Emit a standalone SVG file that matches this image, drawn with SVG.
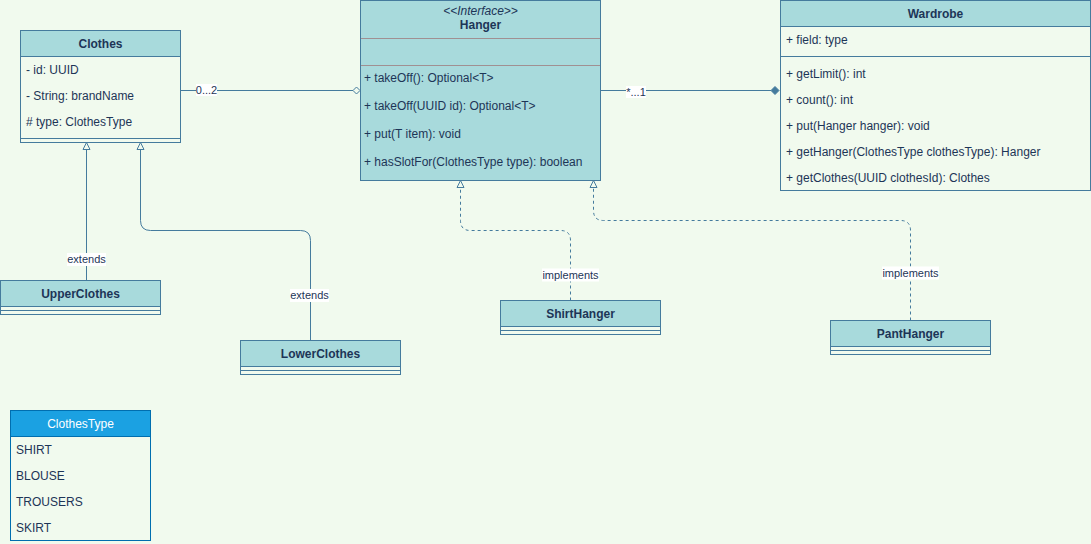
<svg xmlns="http://www.w3.org/2000/svg" width="1091" height="544" viewBox="0 0 1091 544">
  <defs>
    <style>
      .box { fill: #A8DADC; stroke: #457B9D; stroke-width: 1; }
      .body { fill: #F1FAEE; stroke: #457B9D; stroke-width: 1; }
      .sep { stroke: #457B9D; stroke-width: 1; fill: none; }
      .isep { stroke: #a09092; stroke-width: 1; fill: none; }
      .title { font-family: "Liberation Sans", Arial, sans-serif; font-size: 12px; font-weight: bold; fill: #1D3557; text-anchor: middle; }
      .stereo { font-family: "Liberation Sans", Arial, sans-serif; font-size: 12px; font-style: italic; fill: #1D3557; text-anchor: middle; }
      .member { font-family: "Liberation Sans", Arial, sans-serif; font-size: 12px; fill: #1D3557; }
      .enumtitle { font-family: "Liberation Sans", Arial, sans-serif; font-size: 12px; fill: #ffffff; text-anchor: middle; }
      .edge { stroke: #457B9D; stroke-width: 1; fill: none; }
      .dash { stroke-dasharray: 3 3; }
      .lbl { font-family: "Liberation Sans", Arial, sans-serif; font-size: 11px; fill: #1D3557; text-anchor: middle; }
      .lblbg { fill: #ffffff; }
      .enumhead { fill: #1BA1E2; stroke: #006EAF; stroke-width: 1; }
      .enumbody { fill: #F1FAEE; stroke: #006EAF; stroke-width: 1; }
    </style>
    <!-- hollow generalization triangle, base sits at the path end -->
    <marker id="inherit" viewBox="0 0 10 10" refX="0" refY="5" markerWidth="10" markerHeight="10" markerUnits="userSpaceOnUse" orient="auto">
      <path d="M0,1.5 L7,5 L0,8.5 Z" fill="#F1FAEE" stroke="#457B9D" stroke-width="1"/>
    </marker>
  </defs>

  <rect x="0" y="0" width="1091" height="544" fill="#F1FAEE"/>

  <!-- connectors -->
  <g id="connectors">
    <!-- Clothes aggregated in Hanger -->
    <path class="edge" d="M180.5,90.5 H353"/>
    <path d="M353,90.5 L356.5,87 L360,90.5 L356.5,94 Z" fill="#F1FAEE" stroke="#457B9D" stroke-width="1"/>
    <rect class="lblbg" x="196" y="84" width="21" height="12"/>
    <text class="lbl" x="206.5" y="94">0...2</text>

    <!-- Hanger composed in Wardrobe -->
    <path class="edge" d="M600.5,90.5 H771"/>
    <path d="M771,90.5 L775,86.5 L779,90.5 L775,94.5 Z" fill="#457B9D" stroke="#457B9D" stroke-width="1"/>
    <rect class="lblbg" x="626" y="86" width="20" height="12"/>
    <text class="lbl" x="636" y="96">*...1</text>

    <!-- UpperClothes extends Clothes -->
    <path class="edge" d="M86.5,280.5 V149.5" marker-end="url(#inherit)"/>
    <rect class="lblbg" x="67" y="253" width="39" height="13"/>
    <text class="lbl" x="86.5" y="263">extends</text>

    <!-- LowerClothes extends Clothes -->
    <path class="edge" d="M310.5,340.5 V240.5 Q310.5,230.5 300.5,230.5 H150.5 Q140.5,230.5 140.5,220.5 V149.5" marker-end="url(#inherit)"/>
    <rect class="lblbg" x="290" y="289" width="39" height="13"/>
    <text class="lbl" x="309.5" y="299">extends</text>

    <!-- ShirtHanger implements Hanger -->
    <path class="edge dash" d="M570.5,300.5 V240.5 Q570.5,230.5 560.5,230.5 H470.5 Q460.5,230.5 460.5,220.5 V187.5" marker-end="url(#inherit)"/>
    <rect class="lblbg" x="542" y="268.5" width="57" height="13"/>
    <text class="lbl" x="570.5" y="279">implements</text>

    <!-- PantHanger implements Hanger -->
    <path class="edge dash" d="M910.5,320.5 V230.5 Q910.5,220.5 900.5,220.5 H603.5 Q593.5,220.5 593.5,210.5 V187.5" marker-end="url(#inherit)"/>
    <rect class="lblbg" x="882" y="266.5" width="57" height="13"/>
    <text class="lbl" x="910.5" y="277">implements</text>
  </g>

  <!-- Clothes -->
  <g id="clothes">
    <rect class="body" x="20.5" y="30.5" width="160" height="112"/>
    <rect class="box" x="20.5" y="30.5" width="160" height="26"/>
    <text class="title" x="100.5" y="48">Clothes</text>
    <text class="member" x="26" y="74">- id: UUID</text>
    <text class="member" x="26" y="100">- String: brandName</text>
    <text class="member" x="26" y="126"># type: ClothesType</text>
    <line class="sep" x1="20.5" y1="138.5" x2="180.5" y2="138.5"/>
  </g>

  <!-- Hanger interface -->
  <g id="hanger">
    <rect class="box" x="360.5" y="0.5" width="240" height="180"/>
    <text class="stereo" x="480.5" y="15">&lt;&lt;Interface&gt;&gt;</text>
    <text class="title" x="480.5" y="29">Hanger</text>
    <line class="isep" x1="361" y1="38.5" x2="600" y2="38.5"/>
    <line class="isep" x1="361" y1="65.5" x2="600" y2="65.5"/>
    <text class="member" x="364" y="82">+ takeOff(): Optional&lt;T&gt;</text>
    <text class="member" x="364" y="110">+ takeOff(UUID id): Optional&lt;T&gt;</text>
    <text class="member" x="364" y="138">+ put(T item): void</text>
    <text class="member" x="364" y="166">+ hasSlotFor(ClothesType type): boolean</text>
  </g>

  <!-- Wardrobe -->
  <g id="wardrobe">
    <rect class="body" x="780.5" y="0.5" width="310" height="190"/>
    <rect class="box" x="780.5" y="0.5" width="310" height="26"/>
    <text class="title" x="935.5" y="18">Wardrobe</text>
    <text class="member" x="786" y="44">+ field: type</text>
    <line class="sep" x1="780.5" y1="56.5" x2="1090.5" y2="56.5"/>
    <text class="member" x="786" y="78">+ getLimit(): int</text>
    <text class="member" x="786" y="104">+ count(): int</text>
    <text class="member" x="786" y="130">+ put(Hanger hanger): void</text>
    <text class="member" x="786" y="156">+ getHanger(ClothesType clothesType): Hanger</text>
    <text class="member" x="786" y="182">+ getClothes(UUID clothesId): Clothes</text>
  </g>

  <!-- UpperClothes -->
  <g id="upper-clothes">
    <rect class="body" x="0.5" y="280.5" width="160" height="34"/>
    <rect class="box" x="0.5" y="280.5" width="160" height="26"/>
    <text class="title" x="80.5" y="298">UpperClothes</text>
    <line class="sep" x1="0.5" y1="310.5" x2="160.5" y2="310.5"/>
  </g>

  <!-- LowerClothes -->
  <g id="lower-clothes">
    <rect class="body" x="240.5" y="340.5" width="160" height="34"/>
    <rect class="box" x="240.5" y="340.5" width="160" height="26"/>
    <text class="title" x="320.5" y="358">LowerClothes</text>
    <line class="sep" x1="240.5" y1="370.5" x2="400.5" y2="370.5"/>
  </g>

  <!-- ShirtHanger -->
  <g id="shirt-hanger">
    <rect class="body" x="500.5" y="300.5" width="160" height="34"/>
    <rect class="box" x="500.5" y="300.5" width="160" height="26"/>
    <text class="title" x="580.5" y="318">ShirtHanger</text>
    <line class="sep" x1="500.5" y1="330.5" x2="660.5" y2="330.5"/>
  </g>

  <!-- PantHanger -->
  <g id="pant-hanger">
    <rect class="body" x="830.5" y="320.5" width="160" height="34"/>
    <rect class="box" x="830.5" y="320.5" width="160" height="26"/>
    <text class="title" x="910.5" y="338">PantHanger</text>
    <line class="sep" x1="830.5" y1="350.5" x2="990.5" y2="350.5"/>
  </g>

  <!-- ClothesType enum -->
  <g id="clothes-type">
    <rect class="enumbody" x="10.5" y="410.5" width="140" height="130"/>
    <rect class="enumhead" x="10.5" y="410.5" width="140" height="26"/>
    <text class="enumtitle" x="80.5" y="428">ClothesType</text>
    <text class="member" x="16" y="454">SHIRT</text>
    <text class="member" x="16" y="480">BLOUSE</text>
    <text class="member" x="16" y="506">TROUSERS</text>
    <text class="member" x="16" y="532">SKIRT</text>
  </g>
</svg>
